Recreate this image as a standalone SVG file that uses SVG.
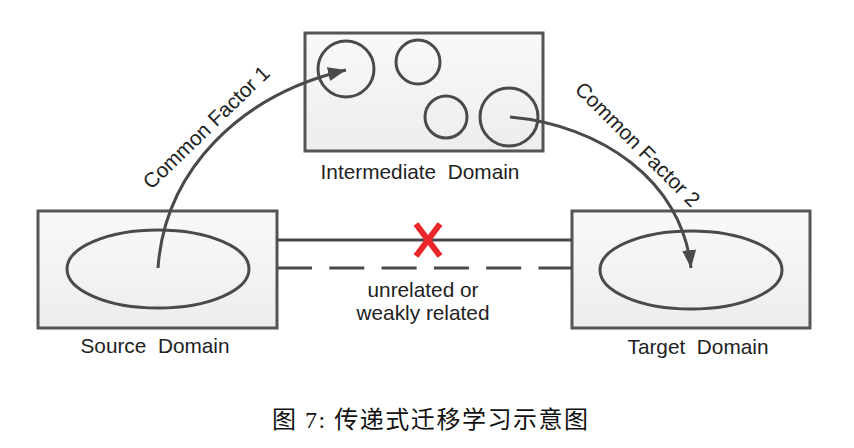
<svg xmlns="http://www.w3.org/2000/svg" width="854" height="448" viewBox="0 0 854 448">
<defs>
<linearGradient id="boxfill" x1="0" y1="0" x2="0" y2="1">
<stop offset="0" stop-color="#f9f9f9"/>
<stop offset="1" stop-color="#ededed"/>
</linearGradient>
<marker id="arrow" markerUnits="userSpaceOnUse" markerWidth="20" markerHeight="14" refX="18" refY="7" orient="auto">
<path d="M0,0 L18,7 L0,14 Z" fill="#4a4a4a"/>
</marker>
</defs>
<style>
.box{fill:url(#boxfill);stroke:#555;stroke-width:3}
.shape{fill:none;stroke:#4a4a4a;stroke-width:3}
.lbl{font-family:"Liberation Sans",Arial,sans-serif;font-size:20.8px;fill:#222;text-anchor:middle}
.edge{fill:none;stroke:#4a4a4a;stroke-width:3}
.cap{font-family:"Liberation Serif","Noto Sans CJK SC",serif;font-size:24px;fill:#111}
</style>
<rect width="854" height="448" fill="#ffffff"/>

<g id="source-domain">
<rect class="box" x="38" y="211" width="239" height="117"/>
<ellipse class="shape" cx="158" cy="269" rx="91" ry="39"/>
<text class="lbl" x="155" y="353" xml:space="preserve">Source  Domain</text>
</g>

<g id="intermediate-domain">
<rect class="box" x="305" y="33" width="238" height="118"/>
<circle class="shape" cx="346" cy="69" r="28"/>
<circle class="shape" cx="418" cy="62" r="22"/>
<circle class="shape" cx="446" cy="117" r="21"/>
<circle class="shape" cx="509" cy="117" r="29"/>
<text class="lbl" x="420" y="179" xml:space="preserve">Intermediate  Domain</text>
</g>

<g id="target-domain">
<rect class="box" x="572" y="211" width="238" height="117"/>
<ellipse class="shape" cx="691" cy="270" rx="91" ry="39"/>
<text class="lbl" x="698" y="354" xml:space="preserve">Target  Domain</text>
</g>

<g id="connectors">
<path class="edge" d="M158,268 C165,170 240,95 346,70" marker-end="url(#arrow)"/>
<path class="edge" d="M510,117 C600,125 682,180 691,268" marker-end="url(#arrow)"/>
<line class="edge" x1="277" y1="240" x2="572" y2="240"/>
<line class="edge" x1="277" y1="268" x2="572" y2="268" stroke-dasharray="35 17.3"/>
<g id="cross" stroke="#e8262b" stroke-width="6" stroke-linecap="butt">
<line x1="416" y1="224" x2="440" y2="256"/>
<line x1="440" y1="224" x2="416" y2="256"/>
</g>
<text class="lbl" transform="translate(206,127) rotate(-44)" dominant-baseline="central">Common Factor 1</text>
<text class="lbl" transform="translate(638,144) rotate(45)" dominant-baseline="central">Common Factor 2</text>
<text class="lbl" x="423" y="297">unrelated or</text>
<text class="lbl" x="423" y="320">weakly related</text>
</g>

<text class="cap" x="272" y="428" textLength="316" lengthAdjust="spacing" xml:space="preserve">图 7: 传递式迁移学习示意图</text>
</svg>
